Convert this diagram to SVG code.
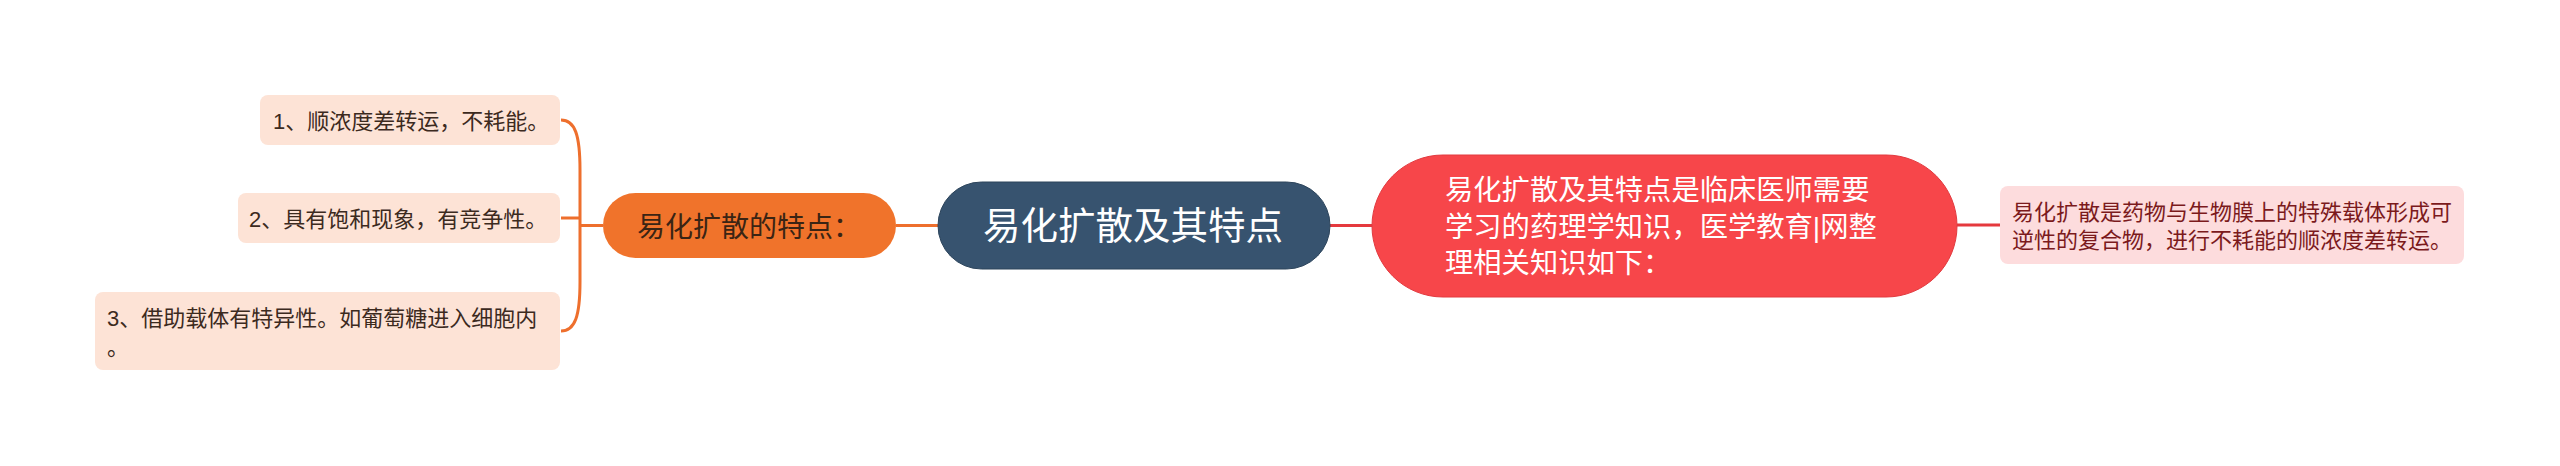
<svg xmlns="http://www.w3.org/2000/svg" width="2560" height="466" viewBox="0 0 2560 466">
<style>
text { font-family: "Liberation Sans", "Noto Sans CJK SC", sans-serif; }
.leaf { fill: #FDE3D6; }
.leaft { fill: #3C2A1E; font-size: 22px; }
.oline { fill: none; stroke: #EE6F2D; stroke-width: 3; }
.rline { fill: none; stroke: #E5393E; stroke-width: 3; }
</style>
<rect width="2560" height="466" fill="#FFFFFF"/>
<g id="connectors">
  <path class="oline" d="M603 225.5 H580"/>
  <path class="oline" d="M561 120 C575 120 580 135 580 170 V282 C580 316 575 331 561 331"/>
  <path class="oline" d="M580 218 H561"/>
  <path class="oline" d="M896 225.5 H938"/>
  <path class="rline" d="M1330 225.5 H1372"/>
  <path class="rline" d="M1957 225 H2000"/>
</g>
<g id="main">
  <rect x="938" y="182" width="392" height="87" rx="43.5" fill="#37536F" stroke="#2C445B" stroke-width="1"/>
  <text x="983" y="239" font-size="37.5" fill="#FFFFFF">易化扩散及其特点</text>
</g>
<g id="branch-left">
  <rect x="603" y="193" width="293" height="65" rx="32.5" fill="#F0732B"/>
  <text x="637" y="237" font-size="28" fill="#3A2414">易化扩散的特点：</text>
</g>
<g id="leaf1">
  <rect class="leaf" x="260" y="95" width="300" height="50" rx="8"/>
  <text class="leaft" x="273" y="129">1、顺浓度差转运，不耗能。</text>
</g>
<g id="leaf2">
  <rect class="leaf" x="238" y="193" width="322" height="50" rx="8"/>
  <text class="leaft" x="249" y="227">2、具有饱和现象，有竞争性。</text>
</g>
<g id="leaf3">
  <rect class="leaf" x="95" y="292" width="465" height="78" rx="8"/>
  <text class="leaft" x="107" y="326">3、借助载体有特异性。如葡萄糖进入细胞内</text>
  <text class="leaft" x="107" y="355">。</text>
</g>
<g id="branch-right">
  <rect x="1372" y="155" width="585" height="142" rx="71" fill="#F7464A" stroke="#E23A3F" stroke-width="1"/>
  <text x="1445" y="200" font-size="28.3" fill="#FFFFFF">易化扩散及其特点是临床医师需要</text>
  <text x="1445" y="236.5" font-size="28.3" fill="#FFFFFF">学习的药理学知识，医学教育|网整</text>
  <text x="1445" y="273" font-size="28.3" fill="#FFFFFF">理相关知识如下：</text>
</g>
<g id="leaf-right">
  <rect x="2000" y="186" width="464" height="78" rx="8" fill="#FDDCDD"/>
  <text x="2012" y="220" font-size="22" fill="#7B1A1C">易化扩散是药物与生物膜上的特殊载体形成可</text>
  <text x="2012" y="248" font-size="22" fill="#7B1A1C">逆性的复合物，进行不耗能的顺浓度差转运。</text>
</g>
</svg>
